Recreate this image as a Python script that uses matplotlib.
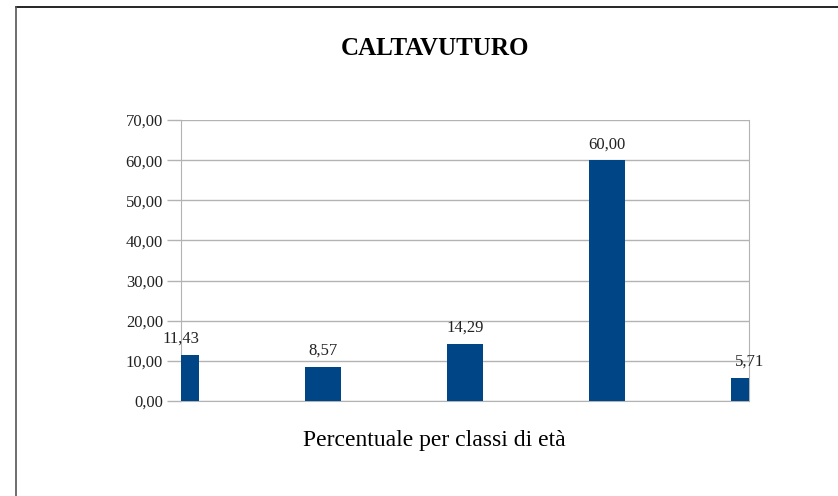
import matplotlib.pyplot as plt
from matplotlib.lines import Line2D

# values
classes = ["1", "2", "3", "4", "5"]
percent = [11.43, 8.57, 14.29, 60.00, 5.71]
yticks = [0, 10, 20, 30, 40, 50, 60, 70]

plt.rcParams["font.family"] = ["Liberation Serif", "DejaVu Serif"]

fig = plt.figure(figsize=(8.38, 4.96), dpi=100)
ax = fig.add_axes([0.216, 0.1915, 0.678, 0.5665])

x = list(range(len(classes)))
ax.bar(x, percent, width=0.25, color="#004586", zorder=3)
ax.set_xlim(0, len(classes) - 1)
ax.set_ylim(0, 70)

for xi, v in zip(x, percent):
    ax.text(xi, v + 2, f"{v:.2f}".replace(".", ","), ha="center", va="bottom",
            fontsize=12, color="#222222", clip_on=False, zorder=4)

ax.set_yticks(yticks)
ax.set_yticklabels([f"{t:.2f}".replace(".", ",") for t in yticks], fontsize=12, color="#222222")
ax.set_xticks([])
ax.tick_params(axis="y", length=10, color="#b3b3b3", width=1, pad=3)
ax.grid(axis="y", color="#b3b3b3", linewidth=1, zorder=0)
for side in ["left", "right", "bottom"]:
    ax.spines[side].set_color("#b3b3b3")
ax.spines["top"].set_visible(False)

fig.text(0.519, 0.903, "CALTAVUTURO", ha="center", va="center", fontsize=18, fontweight="bold")
fig.text(0.518, 0.112, "Percentuale per classi di età", ha="center", va="center", fontsize=17)

# outer frame (top and left edges only)
fig.add_artist(Line2D([0.019, 1.0], [0.986, 0.986], color="black", linewidth=1.2))
fig.add_artist(Line2D([0.019, 0.019], [0.0, 0.986], color="#555555", linewidth=1.2))

fig.savefig("out.png", dpi=100)
